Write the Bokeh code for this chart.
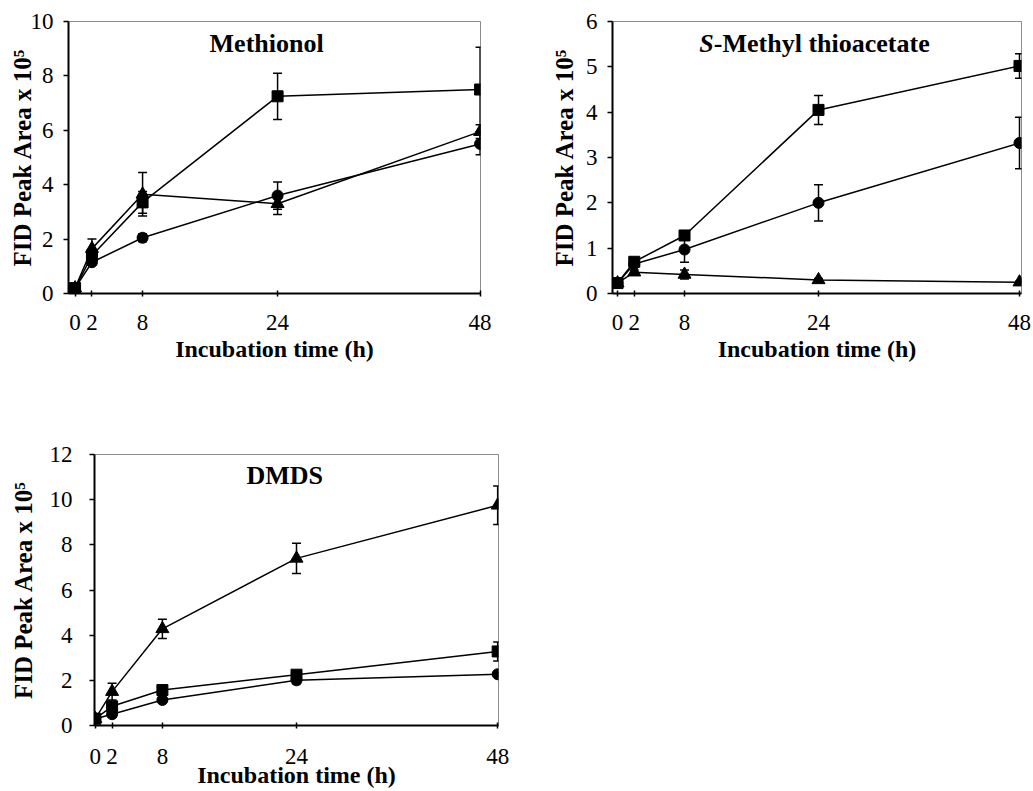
from bokeh.plotting import figure
from bokeh.models import Range1d, FixedTicker, Whisker, TeeHead, ColumnDataSource, Label
from bokeh.layouts import column, row
from bokeh.embed import file_html
from bokeh.resources import INLINE

# ---------------- data ----------------
hours = [0, 2, 8, 24, 48]

# Methionol
meth_square = [0.2, 1.4, 3.35, 7.25, 7.5]
meth_square_err = [0.05, 0.2, 0.4, 0.85, 1.55]
meth_triangle = [0.2, 1.65, 3.65, 3.3, 5.95]
meth_triangle_err = [0.05, 0.35, 0.8, 0.4, 0.25]
meth_circle = [0.2, 1.15, 2.05, 3.6, 5.5]
meth_circle_err = [0.05, 0.1, 0.15, 0.5, 0.4]

# S-Methyl thioacetate
smt_square = [0.23, 0.7, 1.28, 4.05, 5.02]
smt_square_err = [0.05, 0.08, 0.08, 0.32, 0.27]
smt_circle = [0.23, 0.65, 0.97, 2.0, 3.32]
smt_circle_err = [0.05, 0.05, 0.28, 0.4, 0.57]
smt_triangle = [0.23, 0.47, 0.42, 0.3, 0.25]
smt_triangle_err = [0.02, 0.05, 0.1, 0.03, 0.02]

# DMDS
dmds_triangle = [0.3, 1.5, 4.28, 7.4, 9.75]
dmds_triangle_err = [0.05, 0.37, 0.43, 0.67, 0.85]
dmds_square = [0.3, 0.85, 1.57, 2.25, 3.28]
dmds_square_err = [0.05, 0.1, 0.08, 0.1, 0.42]
dmds_circle = [0.3, 0.5, 1.13, 2.0, 2.27]
dmds_circle_err = [0.05, 0.08, 0.08, 0.15, 0.08]

x_axis_title = "Incubation time (h)"
y_axis_title = "FID Peak Area x 10\u2075"

FONT = "Liberation Serif"


def add_series(p, ys, errs, marker, size):
    src = ColumnDataSource(dict(
        x=hours, y=ys,
        upper=[v + e for v, e in zip(ys, errs)],
        lower=[v - e for v, e in zip(ys, errs)],
    ))
    w = Whisker(base="x", upper="upper", lower="lower", source=src, dimension="height",
                line_color="black", line_width=1.5,
                upper_head=TeeHead(size=9, line_color="black", line_width=1.5),
                lower_head=TeeHead(size=9, line_color="black", line_width=1.5))
    p.add_layout(w)
    p.line("x", "y", source=src, line_color="black", line_width=1.5)
    p.scatter("x", "y", source=src, marker=marker, size=size,
              fill_color="black", line_color="black")


def make_panel(width, height, borders, xr, yr, yticks, ytick_standoff, ylab_standoff,
               xtick_standoff, xlab_standoff):
    p = figure(width=width, height=height, output_backend="svg", toolbar_location=None,
               x_range=Range1d(*xr), y_range=Range1d(*yr),
               min_border_left=borders[0], min_border_right=borders[1],
               min_border_top=borders[2], min_border_bottom=borders[3])
    p.xgrid.visible = False
    p.ygrid.visible = False
    p.outline_line_color = "#8c8c8c"
    p.outline_line_width = 1
    p.background_fill_color = "white"
    p.border_fill_color = "white"
    for ax in (p.xaxis[0], p.yaxis[0]):
        ax.axis_line_color = "black"
        ax.axis_line_width = 2
        ax.major_tick_line_color = "black"
        ax.major_tick_line_width = 1.5
        ax.minor_tick_line_color = None
        ax.major_label_text_font = FONT
        ax.major_label_text_font_size = "23px"
        ax.major_label_text_color = "black"
        ax.axis_label_text_font = FONT
        ax.axis_label_text_font_style = "bold"
        ax.axis_label_text_color = "black"
    xa = p.xaxis[0]
    xa.ticker = FixedTicker(ticks=hours)
    xa.major_tick_in = 3
    xa.major_tick_out = 3
    xa.major_label_standoff = xtick_standoff
    xa.axis_label = x_axis_title
    xa.axis_label_standoff = xlab_standoff
    xa.axis_label_text_font_size = "24px"
    ya = p.yaxis[0]
    ya.ticker = FixedTicker(ticks=yticks)
    ya.major_tick_in = 0
    ya.major_tick_out = 5
    ya.major_label_standoff = ytick_standoff
    ya.axis_label = y_axis_title
    ya.axis_label_standoff = ylab_standoff
    ya.axis_label_text_font_size = "25px"
    return p


# ---------------- panel 1: Methionol ----------------
p1 = make_panel(547, 375, (68, 67, 21, 82), (-0.78, 48.05), (0, 10), [0, 2, 4, 6, 8, 10],
                10, -8, 18, 3)
add_series(p1, meth_circle, meth_circle_err, "circle", 11)
add_series(p1, meth_triangle, meth_triangle_err, "triangle", 13)
add_series(p1, meth_square, meth_square_err, "square", 11)
p1.add_layout(Label(x=22.7, y=9.19, text="Methionol", text_align="center", text_baseline="middle",
                    text_font=FONT, text_font_style="bold", text_font_size="26px", text_color="black"))

# ---------------- panel 2: S-Methyl thioacetate ----------------
p2 = make_panel(484, 375, (63, 10, 21, 82), (-0.6, 48.24), (0, 6), [0, 1, 2, 3, 4, 5, 6],
                10, 5, 18, 3)
add_series(p2, smt_triangle, smt_triangle_err, "triangle", 13)
add_series(p2, smt_circle, smt_circle_err, "circle", 11)
add_series(p2, smt_square, smt_square_err, "square", 11)
p2.add_layout(Label(x=11.5, y=5.52, text="S", text_align="right", text_baseline="middle",
                    text_font=FONT, text_font_style="bold italic", text_font_size="26px",
                    text_color="black"))
p2.add_layout(Label(x=11.5, y=5.52, text="-Methyl thioacetate", text_align="left",
                    text_baseline="middle", text_font=FONT, text_font_style="bold",
                    text_font_size="26px", text_color="black"))

# ---------------- panel 3: DMDS ----------------
p3 = make_panel(520, 416, (94, 22, 79, 66), (-0.1, 48.1), (0, 12), [0, 2, 4, 6, 8, 10, 12],
                17, 10, 20, -5)
add_series(p3, dmds_circle, dmds_circle_err, "circle", 11)
add_series(p3, dmds_square, dmds_square_err, "square", 11)
add_series(p3, dmds_triangle, dmds_triangle_err, "triangle", 13)
p3.add_layout(Label(x=22.6, y=11.08, text="DMDS", text_align="center", text_baseline="middle",
                    text_font=FONT, text_font_style="bold", text_font_size="26px", text_color="black"))

layout = column(row(p1, p2), p3)

open("out.html", "w").write(file_html(layout, INLINE))
